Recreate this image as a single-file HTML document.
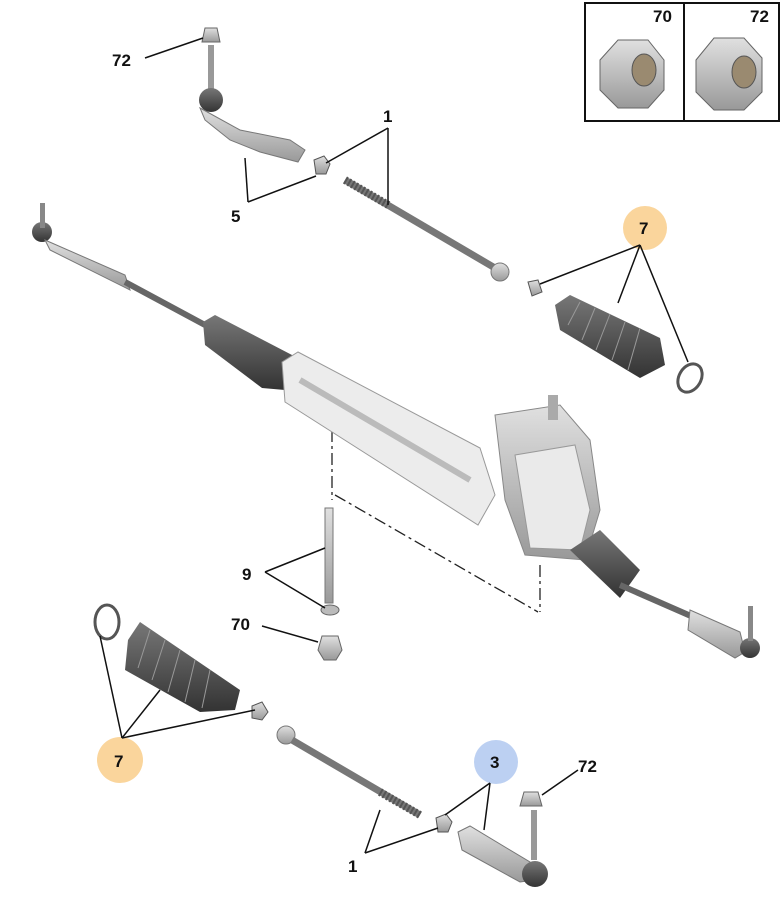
<!DOCTYPE html>
<html><head><meta charset="utf-8"><style>
html,body{margin:0;padding:0;background:#fff;}
svg{display:block}
text{font-family:"Liberation Sans",sans-serif;font-weight:bold;font-size:17px;fill:#111}
</style></head><body>
<svg width="783" height="920" viewBox="0 0 783 920" xmlns="http://www.w3.org/2000/svg">
<defs>
<linearGradient id="g" x1="0" y1="0" x2="0" y2="1"><stop offset="0" stop-color="#e0e0e0"/><stop offset="1" stop-color="#999"/></linearGradient>
<linearGradient id="b" x1="0" y1="0" x2="0" y2="1"><stop offset="0" stop-color="#777"/><stop offset="1" stop-color="#333"/></linearGradient>
</defs>
<rect x="585" y="3" width="194" height="118" fill="#fff" stroke="#111" stroke-width="2"/>
<line x1="684" y1="3" x2="684" y2="121" stroke="#111" stroke-width="2"/>
<text x="653" y="22">70</text><text x="750" y="22">72</text>
<polygon points="600,60 618,40 648,40 664,60 664,90 648,108 618,108 600,90" fill="url(#g)" stroke="#666"/>
<ellipse cx="644" cy="70" rx="12" ry="16" fill="#9a8a70" stroke="#555"/>
<polygon points="696,60 714,38 744,38 762,58 762,92 744,110 714,110 696,92" fill="url(#g)" stroke="#666"/>
<ellipse cx="744" cy="72" rx="12" ry="16" fill="#9a8a70" stroke="#555"/>

<g stroke="#222" stroke-width="1.3" stroke-dasharray="12,4,3,4" fill="none">
<line x1="332" y1="430" x2="332" y2="500"/>
<line x1="335" y1="495" x2="538" y2="612"/>
<line x1="540" y1="565" x2="540" y2="612"/>
</g>

<polygon points="205,28 217,28 220,42 202,42" fill="url(#g)" stroke="#666"/>
<rect x="208" y="45" width="6" height="45" fill="#999"/>
<circle cx="211" cy="100" r="12" fill="url(#b)"/>
<path d="M200,108 L240,130 L290,140 L305,150 L298,162 L260,152 L230,140 L205,120Z" fill="url(#g)" stroke="#777"/>
<polygon points="314,160 324,156 330,164 326,174 316,174" fill="url(#g)" stroke="#555"/>
<line x1="345" y1="180" x2="495" y2="268" stroke="#777" stroke-width="7"/>
<line x1="345" y1="180" x2="390" y2="206" stroke="#555" stroke-width="8" stroke-dasharray="2,2"/>
<circle cx="500" cy="272" r="9" fill="url(#g)" stroke="#777"/>
<polygon points="528,282 538,280 542,292 532,296" fill="url(#g)" stroke="#555"/>
<path d="M555,305 L570,295 L660,338 L665,365 L640,378 L560,330Z" fill="url(#b)"/>
<g stroke="#999" stroke-width="1"><line x1="580" y1="302" x2="568" y2="325"/><line x1="595" y1="308" x2="582" y2="340"/><line x1="610" y1="314" x2="596" y2="350"/><line x1="625" y1="322" x2="612" y2="360"/><line x1="640" y1="328" x2="628" y2="370"/></g>
<ellipse cx="690" cy="378" rx="11" ry="15" fill="none" stroke="#555" stroke-width="3" transform="rotate(30 690 378)"/>

<circle cx="42" cy="232" r="10" fill="url(#b)"/>
<rect x="40" y="203" width="5" height="25" fill="#888"/>
<path d="M45,240 L125,275 L130,290 L50,250Z" fill="url(#g)" stroke="#777"/>
<line x1="125" y1="282" x2="205" y2="325" stroke="#666" stroke-width="6"/>
<path d="M203,322 L215,315 L292,355 L285,390 L262,388 L205,345Z" fill="url(#b)"/>
<path d="M282,362 L298,352 L480,448 L495,495 L478,525 L285,402Z" fill="#ececec" stroke="#999"/>
<path d="M300,380 L470,480" stroke="#bbb" stroke-width="6"/>
<path d="M495,415 L560,405 L590,440 L600,510 L585,560 L525,555 L505,500Z" fill="url(#g)" stroke="#888"/>
<path d="M515,455 L575,445 L590,510 L580,550 L530,548Z" fill="#eaeaea" stroke="#999"/>
<rect x="548" y="395" width="10" height="25" fill="#aaa"/>
<path d="M570,550 L600,530 L640,570 L620,598Z" fill="url(#b)"/>
<line x1="620" y1="585" x2="700" y2="620" stroke="#666" stroke-width="6"/>
<path d="M690,610 L740,632 L745,652 L735,658 L688,630Z" fill="url(#g)" stroke="#777"/>
<circle cx="750" cy="648" r="10" fill="url(#b)"/>
<rect x="748" y="606" width="5" height="35" fill="#888"/>

<rect x="325" y="508" width="8" height="95" fill="url(#g)" stroke="#777"/>
<ellipse cx="330" cy="610" rx="9" ry="5" fill="#bbb" stroke="#666"/>
<polygon points="322,636 338,636 342,650 336,660 324,660 318,650" fill="url(#g)" stroke="#666"/>

<ellipse cx="107" cy="622" rx="12" ry="17" fill="none" stroke="#555" stroke-width="3"/>
<path d="M128,640 L140,622 L240,690 L235,710 L200,712 L125,670Z" fill="url(#b)"/>
<g stroke="#999" stroke-width="1"><line x1="150" y1="630" x2="138" y2="668"/><line x1="165" y1="640" x2="152" y2="680"/><line x1="180" y1="650" x2="168" y2="692"/><line x1="195" y1="660" x2="185" y2="702"/><line x1="210" y1="670" x2="202" y2="708"/></g>
<polygon points="252,706 262,702 268,712 262,720 252,718" fill="url(#g)" stroke="#555"/>

<circle cx="286" cy="735" r="9" fill="url(#g)" stroke="#777"/>
<line x1="292" y1="740" x2="420" y2="815" stroke="#777" stroke-width="7"/>
<line x1="380" y1="792" x2="420" y2="815" stroke="#555" stroke-width="8" stroke-dasharray="2,2"/>
<polygon points="436,818 446,814 452,822 448,832 438,832" fill="url(#g)" stroke="#555"/>
<path d="M458,832 L470,826 L530,862 L535,880 L520,882 L462,850Z" fill="url(#g)" stroke="#777"/>
<circle cx="535" cy="874" r="13" fill="url(#b)"/>
<rect x="531" y="810" width="6" height="50" fill="#999"/>
<polygon points="524,792 538,792 542,806 520,806" fill="url(#g)" stroke="#666"/>

<circle cx="645" cy="228" r="22" fill="#fad59c"/>
<circle cx="120" cy="760" r="23" fill="#fad59c"/>
<circle cx="496" cy="762" r="22" fill="#bcd0f2"/>
<g stroke="#111" stroke-width="1.5" fill="none">
<line x1="145" y1="58" x2="203" y2="38"/>
<line x1="388" y1="128" x2="326" y2="163"/><line x1="388" y1="128" x2="388" y2="205"/>
<line x1="248" y1="202" x2="245" y2="158"/><line x1="248" y1="202" x2="316" y2="176"/>
<line x1="640" y1="245" x2="540" y2="284"/><line x1="640" y1="245" x2="618" y2="303"/><line x1="640" y1="245" x2="688" y2="362"/>
<line x1="265" y1="572" x2="325" y2="548"/><line x1="265" y1="572" x2="325" y2="608"/>
<line x1="262" y1="626" x2="318" y2="642"/>
<line x1="122" y1="738" x2="100" y2="636"/><line x1="122" y1="738" x2="160" y2="690"/><line x1="122" y1="738" x2="255" y2="710"/>
<line x1="490" y1="783" x2="445" y2="815"/><line x1="490" y1="783" x2="484" y2="830"/>
<line x1="578" y1="770" x2="542" y2="795"/>
<line x1="365" y1="853" x2="380" y2="810"/><line x1="365" y1="853" x2="438" y2="828"/>
</g>
<text x="112" y="66">72</text>
<text x="383" y="122">1</text>
<text x="231" y="222">5</text>
<text x="639" y="234">7</text>
<text x="242" y="580">9</text>
<text x="231" y="630">70</text>
<text x="114" y="767">7</text>
<text x="490" y="768">3</text>
<text x="578" y="772">72</text>
<text x="348" y="872">1</text>
</svg>
</body></html>
